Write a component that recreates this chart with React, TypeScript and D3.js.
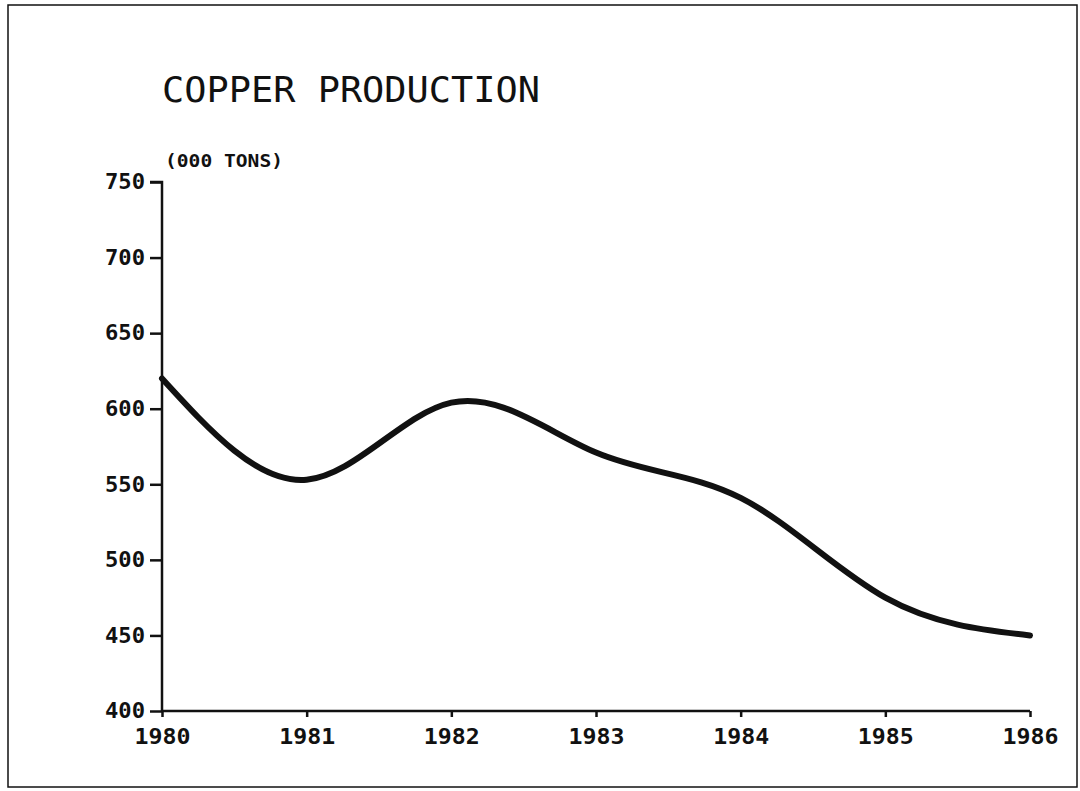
import React, { useEffect, useRef } from 'react';
import * as d3 from 'd3';

const years = [1980, 1981, 1982, 1983, 1984, 1985, 1986];
const production = [620, 553, 604, 571, 541, 475, 450];
const yTicks = [400, 450, 500, 550, 600, 650, 700, 750];

const W = 1080;
const H = 791;

const App = () => {
  const ref = useRef<SVGSVGElement | null>(null);

  useEffect(() => {
    const svg = d3.select(ref.current);
    svg.selectAll('*').remove();

    const left = 162;
    const right = 1030;
    const top = 182;
    const bottom = 711;

    const x = d3.scaleLinear().domain([1980, 1986]).range([left, right]);
    const y = d3.scaleLinear().domain([400, 750]).range([bottom, top]);

    // outer frame
    svg
      .append('rect')
      .attr('x', 8)
      .attr('y', 5)
      .attr('width', 1069)
      .attr('height', 782)
      .attr('fill', 'white')
      .attr('stroke', '#111')
      .attr('stroke-width', 1.5);

    svg
      .append('text')
      .attr('x', 162)
      .attr('y', 102)
      .attr('font-family', 'DejaVu Sans Mono')
      .attr('font-size', 36)
      .attr('textLength', 378)
      .attr('lengthAdjust', 'spacingAndGlyphs')
      .attr('fill', '#111')
      .text('COPPER PRODUCTION');

    svg
      .append('text')
      .attr('x', 165)
      .attr('y', 167)
      .attr('font-family', 'DejaVu Sans Mono')
      .attr('font-weight', 'bold')
      .attr('font-size', 17)
      .attr('textLength', 118)
      .attr('lengthAdjust', 'spacingAndGlyphs')
      .attr('fill', '#111')
      .text('(000 TONS)');

    // y axis
    const yAxis = svg
      .append('g')
      .attr('transform', `translate(${left},0)`)
      .call(d3.axisLeft(y).tickValues(yTicks).tickSize(12).tickPadding(5).tickFormat(d3.format('d')));
    yAxis.select('.domain').attr('d', `M-12,${top}H0V${bottom}`).attr('stroke', '#111').attr('stroke-width', 2.5);
    yAxis.selectAll('.tick line').attr('stroke', '#111').attr('stroke-width', 2.5);
    yAxis
      .selectAll('.tick text')
      .attr('font-family', 'DejaVu Sans Mono')
      .attr('font-weight', 'bold')
      .attr('font-size', 21)
      .attr('textLength', 40)
      .attr('lengthAdjust', 'spacingAndGlyphs')
      .attr('fill', '#111');

    // x axis
    const xAxis = svg
      .append('g')
      .attr('transform', `translate(0,${bottom})`)
      .call(d3.axisBottom(x).tickValues(years).tickSize(6).tickPadding(11).tickFormat(d3.format('d')));
    xAxis.select('.domain').attr('d', `M${left},0H${right}`).attr('stroke', '#111').attr('stroke-width', 2.5);
    xAxis.selectAll('.tick line').attr('stroke', '#111').attr('stroke-width', 2.5);
    xAxis
      .selectAll('.tick text')
      .attr('font-family', 'DejaVu Sans Mono')
      .attr('font-weight', 'bold')
      .attr('font-size', 22)
      .attr('textLength', 56)
      .attr('lengthAdjust', 'spacingAndGlyphs')
      .attr('fill', '#111');

    const line = d3
      .line<number>()
      .x((d, i) => x(years[i]))
      .y((d) => y(d))
      .curve(d3.curveNatural);

    svg
      .append('path')
      .datum(production)
      .attr('d', line)
      .attr('fill', 'none')
      .attr('stroke', '#111')
      .attr('stroke-width', 6)
      .attr('stroke-linecap', 'round');
  }, []);

  return (
    <svg
      ref={ref}
      width={W}
      height={H}
      style={{ position: 'absolute', left: 0, top: 0, background: 'white' }}
    />
  );
};

export default App;
